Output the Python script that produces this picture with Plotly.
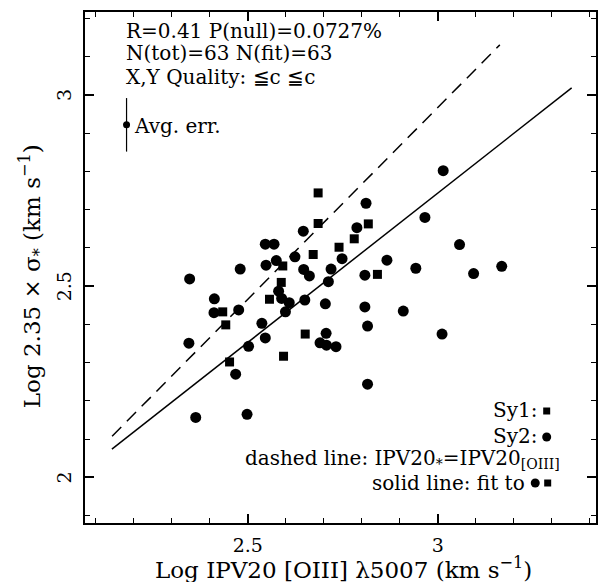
import plotly.graph_objects as go

# ---- data ----
sy1_x = [2.685, 2.685, 2.672, 2.740, 2.780, 2.817, 2.841, 2.651, 2.592, 2.588,
         2.557, 2.434, 2.442, 2.452, 2.594]
sy1_y = [2.744, 2.664, 2.583, 2.602, 2.624, 2.663, 2.531, 2.375, 2.553, 2.510,
         2.466, 2.433, 2.399, 2.302, 2.317]

sy2_x = [2.646, 2.546, 2.569, 2.624, 2.548, 2.575, 2.480, 2.347, 2.647, 2.662,
         2.719, 2.748, 2.712, 2.581, 2.589, 2.609, 2.599, 2.650, 2.704, 2.412,
         2.411, 2.476, 2.537, 2.546, 2.345, 2.502, 2.706, 2.690, 2.707, 2.732,
         3.014, 2.811, 2.787, 2.966, 2.866, 2.808, 2.942, 3.057, 3.094, 3.168,
         2.808, 2.909, 2.815, 3.011, 2.468, 2.363, 2.498, 2.815]
sy2_y = [2.644, 2.610, 2.610, 2.577, 2.555, 2.567, 2.545, 2.519, 2.544, 2.527,
         2.545, 2.572, 2.512, 2.487, 2.468, 2.457, 2.433, 2.464, 2.454, 2.467,
         2.431, 2.438, 2.403, 2.365, 2.351, 2.343, 2.377, 2.352, 2.346, 2.342,
         2.802, 2.717, 2.653, 2.680, 2.568, 2.529, 2.547, 2.609, 2.533, 2.552,
         2.446, 2.435, 2.396, 2.375, 2.270, 2.157, 2.165, 2.244]

dashed_x = [2.143, 3.163]
dashed_y = [2.108, 3.131]
fit_slope = 0.781
fit_intercept = 0.4007
fit_x = [2.1425, 3.352]

avg_err_x = 2.181
avg_err_y = 2.922
avg_err = 0.070

x_range = [2.0717, 3.416]
y_range = [1.881, 3.217]
x_ticks = [2.5, 3.0]
x_ticktext = ["2.5", "3"]
y_ticks = [2.0, 2.5, 3.0]
y_ticktext = ["2", "2.5", "3"]

FONT = "DejaVu Serif"
fit_y = [fit_slope * v + fit_intercept for v in fit_x]

fig = go.Figure()
fig.add_trace(go.Scatter(x=dashed_x, y=dashed_y, mode="lines",
                         line=dict(color="black", width=1.5, dash="13px,8px"),
                         hoverinfo="skip"))
fig.add_trace(go.Scatter(x=fit_x, y=fit_y, mode="lines",
                         line=dict(color="black", width=1.5), hoverinfo="skip"))
fig.add_trace(go.Scatter(x=sy2_x, y=sy2_y, mode="markers",
                         marker=dict(symbol="circle", size=11, color="black")))
fig.add_trace(go.Scatter(x=sy1_x, y=sy1_y, mode="markers",
                         marker=dict(symbol="square", size=9, color="black")))
fig.add_trace(go.Scatter(x=[avg_err_x], y=[avg_err_y], mode="markers",
                         marker=dict(symbol="circle", size=7, color="black"),
                         error_y=dict(type="constant", value=avg_err, color="black",
                                      thickness=1.2, width=0)))

axis_common = dict(showline=True, linecolor="black", linewidth=2, mirror="ticks",
                   ticks="inside", ticklen=9, tickwidth=1.5, tickcolor="black",
                   showgrid=False, zeroline=False,
                   tickfont=dict(family=FONT, size=19, color="black"),
                   minor=dict(ticks="inside", ticklen=5, tickwidth=1.2,
                              tickcolor="black", dtick=0.1, showgrid=False))

fig.update_xaxes(range=x_range, tickvals=x_ticks, ticktext=x_ticktext,
                 ticklabelstandoff=4, **axis_common)
fig.update_yaxes(range=y_range, tickvals=y_ticks, ticktext=y_ticktext,
                 showticklabels=False, **axis_common)

def px_x(p):
    return (p - 85) / 513.0

def px_y(p):
    return (523 - p) / 511.0

anns = []
def txt(text, x, y, xanchor="left", size=20, angle=0, xref="paper", yref="paper"):
    anns.append(dict(text=text, x=x, y=y, xref=xref, yref=yref, xanchor=xanchor,
                     yanchor="middle", showarrow=False, textangle=angle,
                     font=dict(family=FONT, size=size, color="black")))

# rotated y tick labels (as in the reference)
for v, t in zip(y_ticks, y_ticktext):
    txt(t, px_x(64), v, xanchor="center", size=19, angle=-90, yref="y")

txt("R=0.41 P(null)=0.0727%", px_x(124), px_y(31))
txt("N(tot)=63 N(fit)=63", px_x(124), px_y(53))
txt("X,Y Quality: ≦c ≦c", px_x(124), px_y(77))
txt("Avg. err.", px_x(132), px_y(126))
txt("Sy1:", px_x(541), px_y(410), xanchor="right")
txt("Sy2:", px_x(541), px_y(436), xanchor="right")
txt("dashed line: IPV20<sub>*</sub>=IPV20<sub>[OIII]</sub>", px_x(564), px_y(459), xanchor="right")
txt("solid line: fit to", px_x(529), px_y(483), xanchor="right")
txt("Log IPV20 [OIII] λ5007 (km s<sup>−1</sup>)", px_x(345), px_y(568), xanchor="center", size=23)
txt("Log 2.35 × σ<sub>*</sub> (km s<sup>−1</sup>)", px_x(31), px_y(276), xanchor="center",
    size=23, angle=-90)
fig.update_layout(annotations=anns)

shapes = []
def sq(cx, cy, half):
    shapes.append(dict(type="rect", xref="paper", yref="paper", xsizemode="pixel",
                       ysizemode="pixel", xanchor=px_x(cx), yanchor=px_y(cy),
                       x0=-half, x1=half, y0=-half, y1=half,
                       fillcolor="black", line=dict(width=0)))
def circ(cx, cy, r):
    shapes.append(dict(type="circle", xref="paper", yref="paper", xsizemode="pixel",
                       ysizemode="pixel", xanchor=px_x(cx), yanchor=px_y(cy),
                       x0=-r, x1=r, y0=-r, y1=r,
                       fillcolor="black", line=dict(width=0)))
sq(548.5, 411, 3.5)
circ(548.5, 437, 4.5)
circ(537, 483, 4.5)
sq(549.5, 483, 3.5)
fig.update_layout(shapes=shapes)

fig.update_layout(width=601, height=582, margin=dict(l=85, r=3, t=12, b=59),
                  paper_bgcolor="white", plot_bgcolor="white", showlegend=False)
fig.write_html("out.html")
